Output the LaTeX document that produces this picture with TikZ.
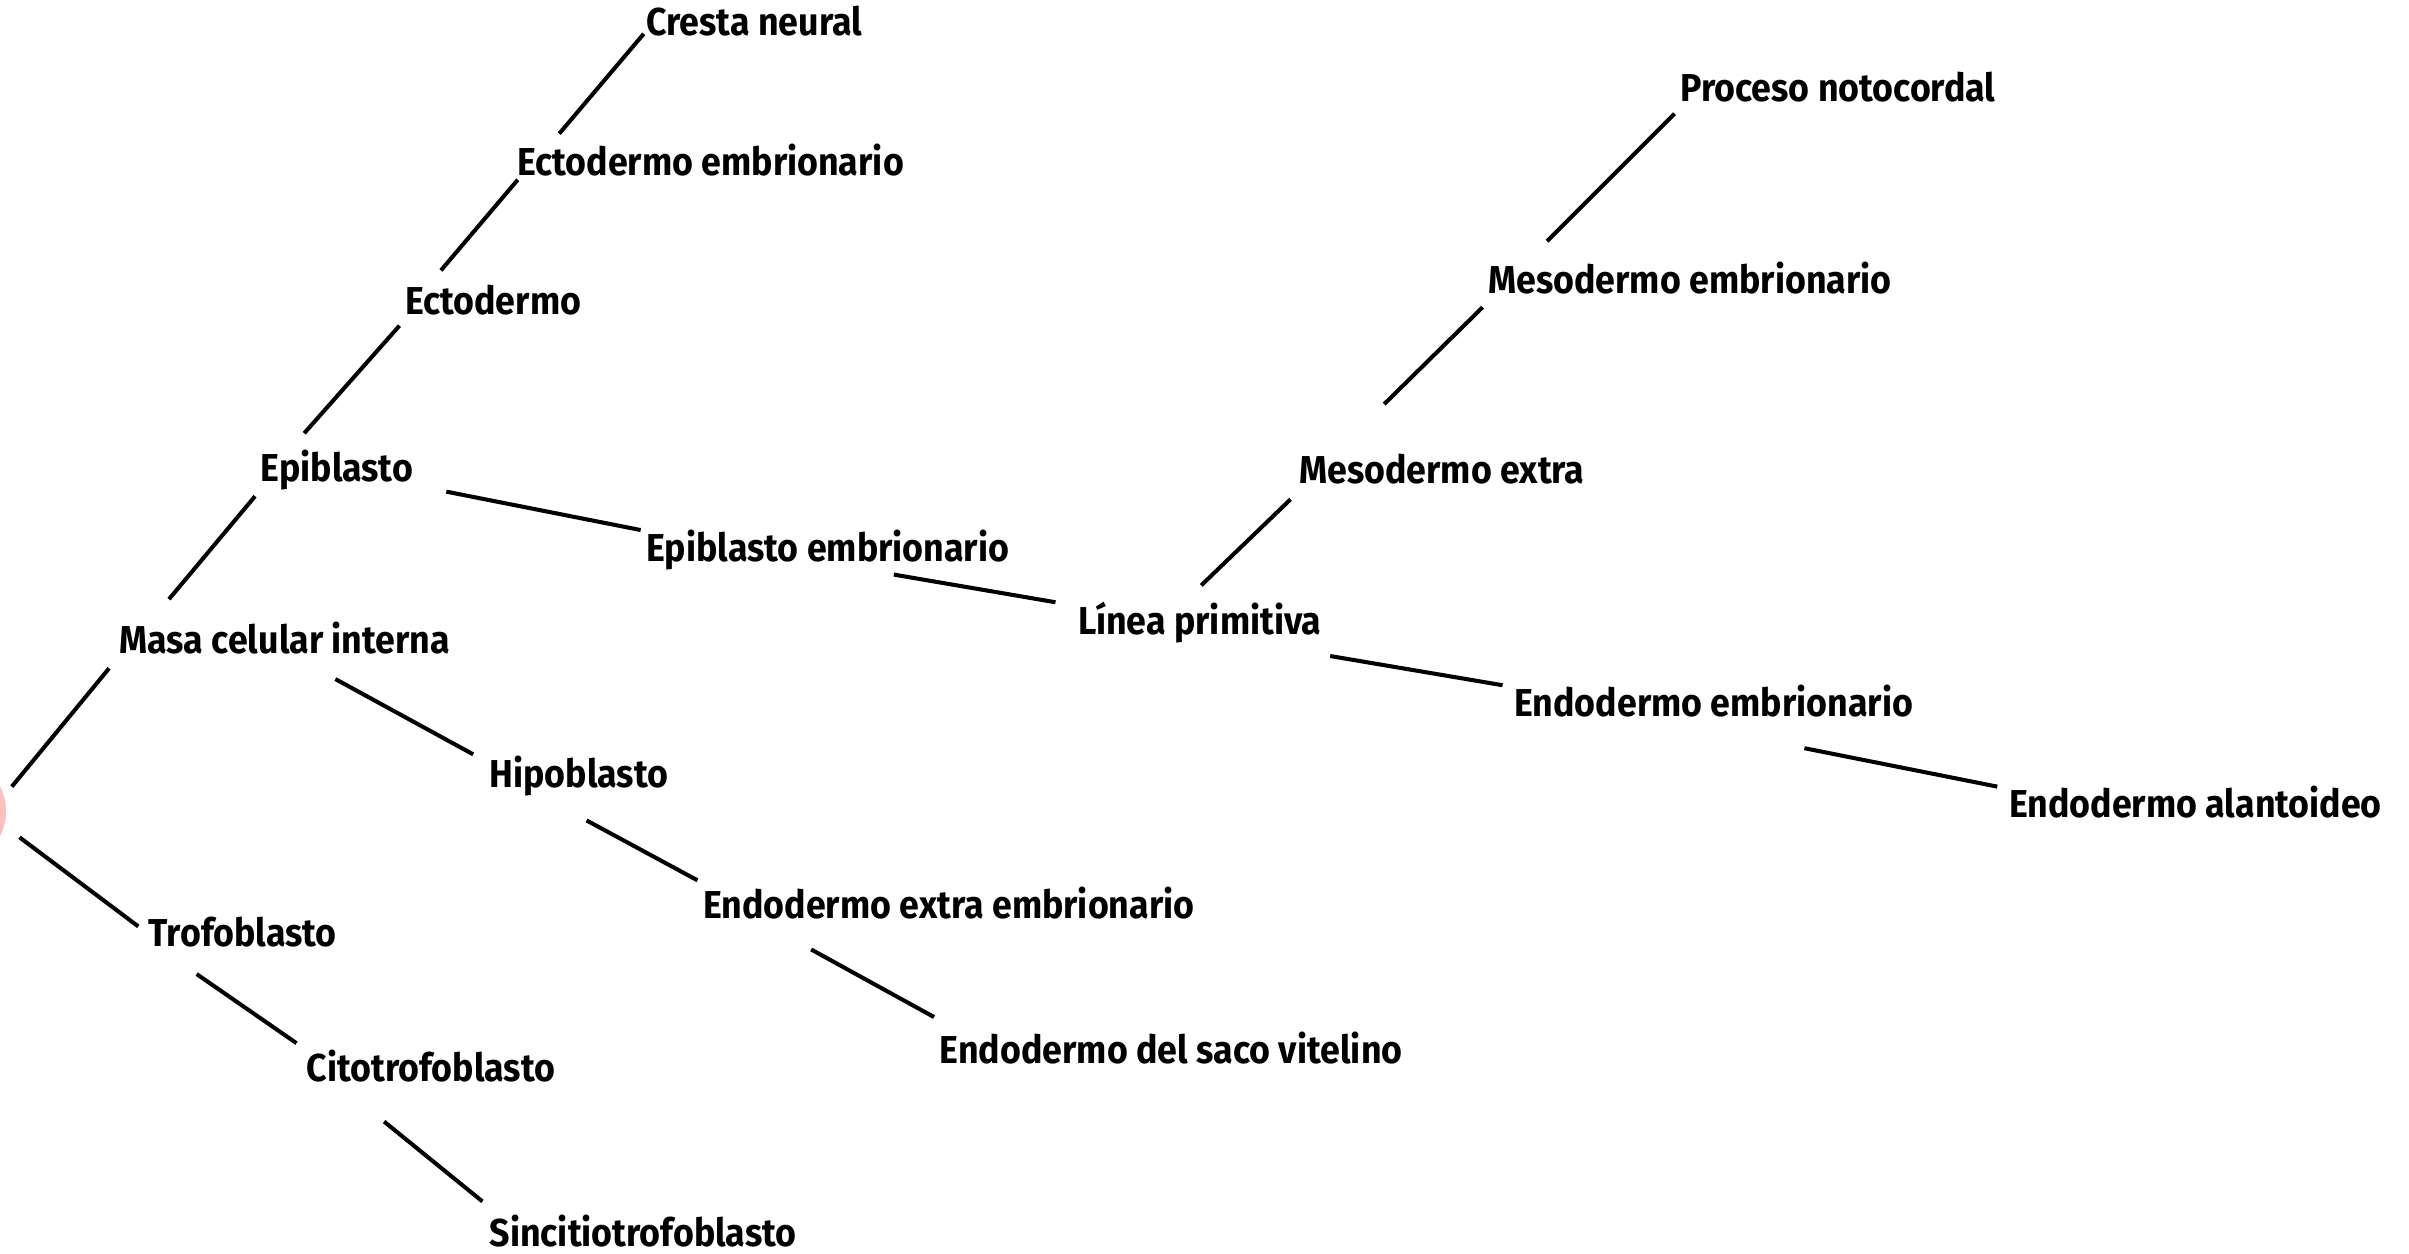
\documentclass[tikz,border=0pt]{standalone}
\usepackage{fontspec}
\setmainfont{Fira Sans}[FakeStretch=0.92]
\usepackage{tikz}
\usetikzlibrary{positioning}

\begin{document}
\begin{tikzpicture}[x=0.1mm, y=-0.1mm,
    word/.style = {anchor=west, inner sep=0pt, font=\fontsize{7.2}{8.5}\selectfont\bfseries},
    link/.style = {line width=0.75pt}]
    \useasboundingbox (0,0) rectangle (1568,816);
    \clip (0,0) rectangle (1568,816);

    \node[circle, fill=red!25, minimum size=7mm, inner sep=0pt] (root) at (-31,528) {};

    \node[word] (cresta) at (420,14) {Cresta neural};
    \node[word] (ectoemb) at (336,104) {Ectodermo embrionario};
    \node[word] (ecto) at (263,195) {Ectodermo};
    \node[word] (epi) at (169,306) {Epiblasto};
    \node[word] (masa) at (77,415) {Masa celular interna};
    \node[word] (hipo) at (318,505) {Hipoblasto};
    \node[word] (trofo) at (96,607) {Trofoblasto};
    \node[word] (cito) at (199,694) {Citotrofoblasto};
    \node[word] (sinci) at (318,801) {Sincitiotrofoblasto};
    \node[word] (endoext) at (457,588) {Endodermo extra embrionario};
    \node[word] (saco) at (611,682) {Endodermo del saco vitelino};
    \node[word] (epiemb) at (420,358) {Epiblasto embrionario};
    \node[word] (linea) at (701,405) {Línea primitiva};
    \node[word] (mesoext) at (845,305) {Mesodermo extra};
    \node[word] (mesoemb) at (968,181) {Mesodermo embrionario};
    \node[word] (proceso) at (1093,57) {Proceso notocordal};
    \node[word] (endoemb) at (985,456) {Endodermo embrionario};
    \node[word] (alanto) at (1307,522) {Endodermo alantoideo};

    \draw[link] ([shift={(3,-16)}]root.east) -- ([shift={(-6,20)}]masa.west);
    \draw[link] ([shift={(8,17)}]root.east) -- ([shift={(-6,-4)}]trofo.west);
    \draw[link] ([shift={(33,-25)}]masa.west) -- ([shift={(-3,17)}]epi.west);
    \draw[link] ([shift={(29,-24)}]epi.west) -- ([shift={(-3,17)}]ecto.west);
    \draw[link] ([shift={(24,-19)}]ecto.west) -- ([shift={(1,13)}]ectoemb.west);
    \draw[link] ([shift={(28,-17)}]ectoemb.west) -- ([shift={(-1,8)}]cresta.west);
    \draw[link] ([shift={(33,27)}]masa.center) -- ([shift={(-10,-14)}]hipo.west);
    \draw[link] ([shift={(5,29)}]hipo.center) -- ([shift={(-3,-15)}]endoext.west);
    \draw[link] ([shift={(71,30)}]endoext.west) -- ([shift={(-3,-20)}]saco.west);
    \draw[link] ([shift={(32,27)}]trofo.west) -- ([shift={(-6,-15)}]cito.west);
    \draw[link] ([shift={(51,36)}]cito.west) -- ([shift={(-4,-19)}]sinci.west);
    \draw[link] ([shift={(21,14)}]epi.east) -- ([shift={(-3,-13)}]epiemb.west);
    \draw[link] ([shift={(43,16)}]epiemb.center) -- ([shift={(-14,-13)}]linea.west);
    \draw[link] ([shift={(1,-24)}]linea.center) -- ([shift={(-5,20)}]mesoext.west);
    \draw[link] ([shift={(56,-42)}]mesoext.west) -- ([shift={(-3,19)}]mesoemb.west);
    \draw[link] ([shift={(39,-24)}]mesoemb.west) -- ([shift={(-3,17)}]proceso.west);
    \draw[link] ([shift={(5,22)}]linea.east) -- ([shift={(-7,-10)}]endoemb.west);
    \draw[link] ([shift={(59,31)}]endoemb.center) -- ([shift={(-7,-10)}]alanto.west);
\end{tikzpicture}
\end{document}
